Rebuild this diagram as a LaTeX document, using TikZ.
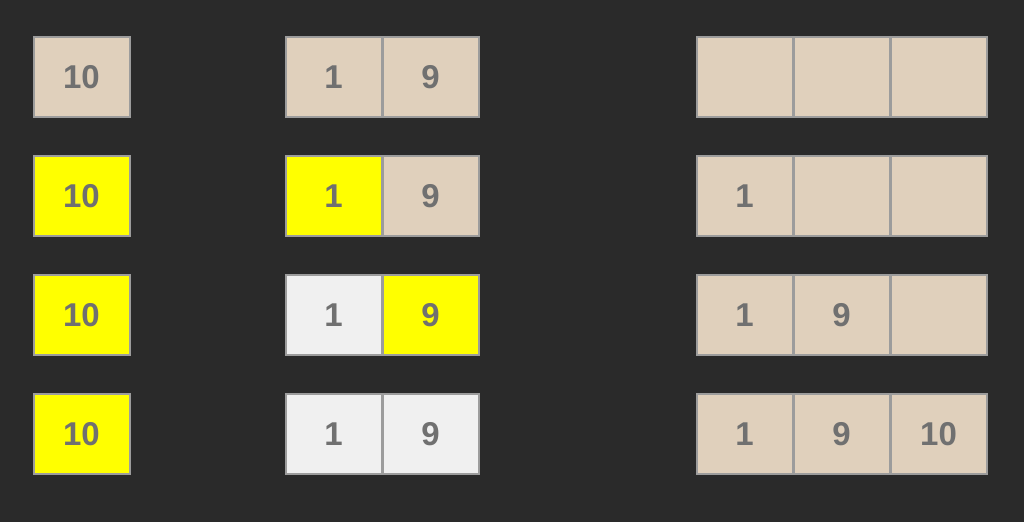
\documentclass[tikz,border=0pt]{standalone}
\usepackage{fontspec}
\setmainfont{Liberation Sans}
\definecolor{bg}{HTML}{2A2A2A}
\definecolor{tan}{HTML}{E0D0BC}
\definecolor{ylw}{HTML}{FFFF00}
\definecolor{lgray}{HTML}{F0F0F0}
\definecolor{bord}{HTML}{9C9C9C}
\definecolor{txt}{HTML}{707070}
\tikzset{
  cell/.style={draw=bord, line width=2pt, minimum width=96pt, minimum height=80pt, inner sep=0pt,
    font=\fontsize{33}{33}\selectfont\bfseries, text=txt},
  tancell/.style={cell, fill=tan},
  ycell/.style={cell, fill=ylw},
  gcell/.style={cell, fill=lgray},
}
\begin{document}
\begin{tikzpicture}[x=1pt,y=-1pt]
\fill[bg] (0,0) rectangle (1024,522);
\useasboundingbox (0,0) rectangle (1024,522);
% row 1
\node[tancell] (a1) at (81.5,77) {10};
\node[tancell] (b1) at (333.5,77) {1};
\node[tancell] (c1) at (430.5,77) {9};
\node[tancell] (d1) at (744.5,77) {};
\node[tancell] (e1) at (841.5,77) {};
\node[tancell] (f1) at (938.5,77) {};
% row 2
\node[ycell] (a2) at (81.5,196) {10};
\node[ycell] (b2) at (333.5,196) {1};
\node[tancell] (c2) at (430.5,196) {9};
\node[tancell] (d2) at (744.5,196) {1};
\node[tancell] (e2) at (841.5,196) {};
\node[tancell] (f2) at (938.5,196) {};
% row 3
\node[ycell] (a3) at (81.5,315) {10};
\node[gcell] (b3) at (333.5,315) {1};
\node[ycell] (c3) at (430.5,315) {9};
\node[tancell] (d3) at (744.5,315) {1};
\node[tancell] (e3) at (841.5,315) {9};
\node[tancell] (f3) at (938.5,315) {};
% row 4
\node[ycell] (a4) at (81.5,434) {10};
\node[gcell] (b4) at (333.5,434) {1};
\node[gcell] (c4) at (430.5,434) {9};
\node[tancell] (d4) at (744.5,434) {1};
\node[tancell] (e4) at (841.5,434) {9};
\node[tancell] (f4) at (938.5,434) {10};
\end{tikzpicture}
\end{document}
